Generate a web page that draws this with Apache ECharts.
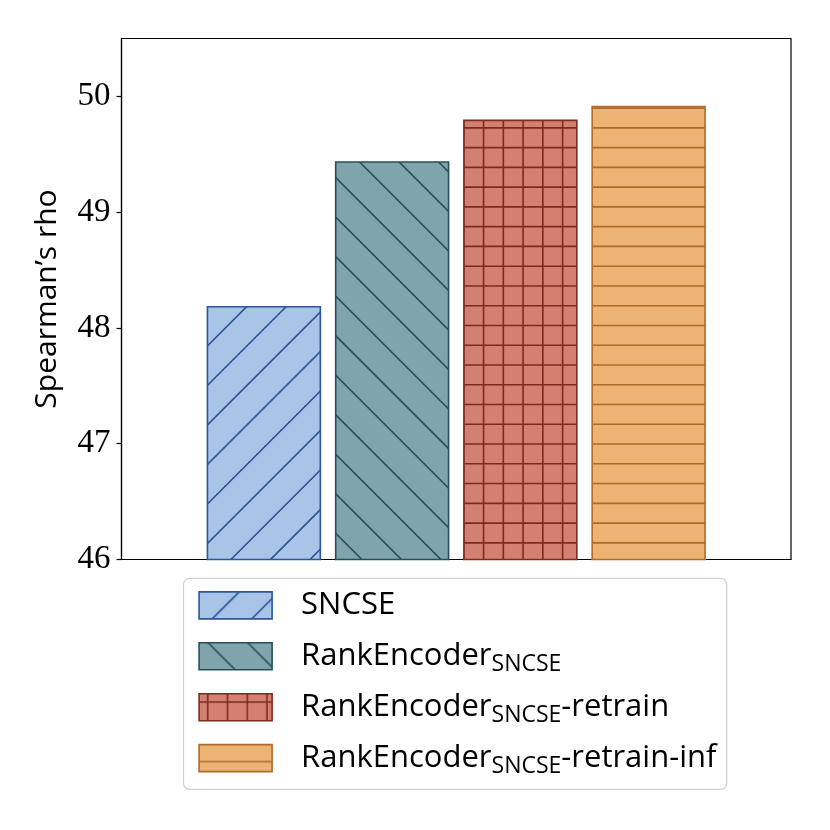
<!DOCTYPE html>
<html>
<head>
<meta charset="utf-8">
<script src="https://cdn.jsdelivr.net/npm/echarts@6/dist/echarts.min.js"></script>
<style>
html,body{margin:0;padding:0;background:#fff;}
#chart{width:830px;height:830px;}
</style>
</head>
<body>
<div id="chart"></div>
<script>
// data
var seriesNames = ['SNCSE', 'RankEncoder_SNCSE', 'RankEncoder_SNCSE-retrain', 'RankEncoder_SNCSE-retrain-inf'];
var scores = [48.19, 49.44, 49.80, 49.92];
var yTicks = [46, 47, 48, 49, 50];
var hatches = ['/', '\\', '+', '-'];
var fills = ['#a8c4e6', '#7fa4ab', '#d2806f', '#ecb374'];
var edges = ['#2c5697', '#25505a', '#7c2b1f', '#b06a2b'];

var STEP = 830 / 42;   // hatch spacing, tile repeats every 830px
var LEG_X = 198.3, LEG_Y = 591.7, LEG_ROW = 50.5;
var TXT_H = 34.6, TXT_OFF = 1.8;   // legend row height / icon offset inside the row (measured)

var chart = {
    default : function(){
        chart.tiles = hatches.map(function(h, i){
            return chart.hatchCanvas(h, fills[i], edges[i]);
        });
        chart.draw();
    },
    // one big tile per hatch, lines placed in page coordinates
    hatchCanvas : function(kind, fill, color){
        var c = document.createElement('canvas');
        c.width = 830; c.height = 830;
        var ctx = c.getContext('2d');
        ctx.fillStyle = fill;
        ctx.fillRect(0, 0, 830, 830);
        ctx.strokeStyle = color;
        ctx.lineWidth = 1.6;
        ctx.beginPath();
        var i, p;
        if(kind == '/'){
            for(i = -1; i <= 43; i++){ p = i * 2 * STEP; ctx.moveTo(p + 10, -10); ctx.lineTo(p - 840, 840); }
        }else if(kind == '\\'){
            for(i = -22; i <= 22; i++){ p = i * 2 * STEP; ctx.moveTo(p - 10, -10); ctx.lineTo(p + 840, 840); }
        }else{
            for(i = 0; i < 42; i++){
                p = STEP / 2 - 0.6 + i * STEP;
                ctx.moveTo(-5, p); ctx.lineTo(835, p);
                if(kind == '+'){ ctx.moveTo(p, -5); ctx.lineTo(p, 835); }
            }
        }
        ctx.stroke();
        return c;
    },
    pattern : function(i, ox, oy){
        return { image: chart.tiles[i], repeat: 'repeat', x: -ox, y: -oy };
    },
    legendText : function(name){
        var parts = name.split('_SNCSE');
        // empty sub token keeps every row the same height
        if(parts.length == 1) return '{m|' + name + '}{sub| }';
        return '{m|' + parts[0] + '}{sub|SNCSE}' + (parts[1] ? '{m|' + parts[1] + '}' : '');
    },
    draw : function(){
        var myChart = echarts.init(document.getElementById('chart'));
        var option = {
            animation: false,
            backgroundColor: '#fff',
            grid: {
                left: 121.5, right: 39, top: 38.5, bottom: 270.5,
                show: true, borderColor: '#000', borderWidth: 1.2
            },
            xAxis: {
                type: 'category',
                data: [''],
                axisLine: { lineStyle: { color: '#000', width: 1.2 } },
                axisTick: { show: false },
                axisLabel: { show: false },
                splitLine: { show: false }
            },
            yAxis: {
                type: 'value',
                min: 46, max: 50.5, interval: 1,
                name: 'Spearman\u2019s rho',
                nameLocation: 'middle',
                nameGap: 59,
                nameTextStyle: { fontFamily: 'Open Sans', fontSize: 30, color: '#000' },
                axisLine: { show: true, lineStyle: { color: '#000', width: 1.2 } },
                axisTick: { show: true, length: 5, customValues: yTicks, lineStyle: { color: '#000', width: 1.2 } },
                axisLabel: {
                    customValues: yTicks, margin: 11,
                    fontFamily: 'Liberation Serif', fontSize: 33, color: '#000'
                },
                splitLine: { show: false }
            },
            graphic: [{
                type: 'rect', z: 1,
                shape: { x: 183.5, y: 578.3, width: 543.2, height: 211, r: 6 },
                style: { fill: '#fff', stroke: '#d0d0d0', lineWidth: 1.2 }
            }],
            legend: {
                orient: 'vertical',
                left: LEG_X, top: LEG_Y - TXT_OFF,
                padding: 0,
                itemWidth: 73, itemHeight: 27, itemGap: LEG_ROW - TXT_H,
                selectedMode: false,
                z: 5,
                data: seriesNames.map(function(name, i){
                    return {
                        name: name, icon: 'rect',
                        itemStyle: {
                            color: chart.pattern(i, LEG_X, LEG_Y + i * LEG_ROW),
                            borderColor: edges[i], borderWidth: 1.6
                        }
                    };
                }),
                formatter: chart.legendText,
                textStyle: {
                    padding: [0, 0, 0, 24],
                    rich: {
                        m: { fontFamily: 'Open Sans', fontSize: 31, lineHeight: 27, color: '#000' },
                        sub: { fontFamily: 'Open Sans', fontSize: 23, lineHeight: 7, verticalAlign: 'top', padding: [10, 0, 0, 0], color: '#000' }
                    }
                }
            },
            series: seriesNames.map(function(name, i){
                return {
                    name: name,
                    type: 'bar',
                    data: [scores[i]],
                    barWidth: 114.5,
                    barGap: '12%',
                    itemStyle: { color: chart.pattern(i, 0, 0), borderColor: edges[i], borderWidth: 1.6 },
                    emphasis: { disabled: true }
                };
            })
        };
        myChart.setOption(option);
    }
};
chart.default();
</script>
</body>
</html>
